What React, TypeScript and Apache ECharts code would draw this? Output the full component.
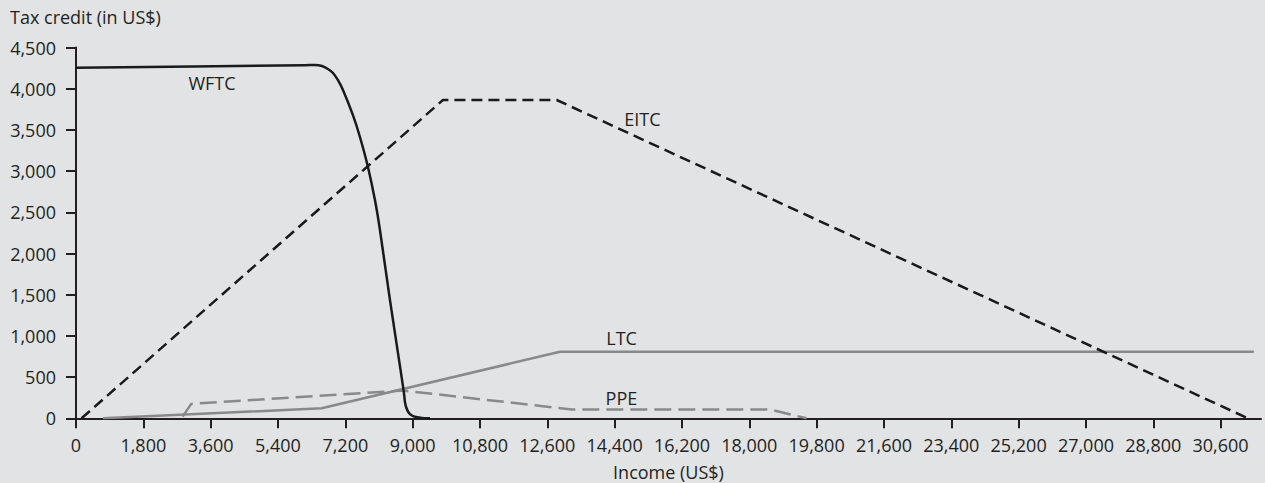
import React, { useEffect, useRef } from "react";
import * as echarts from "echarts";

const xTicks = [0, 1800, 3600, 5400, 7200, 9000, 10800, 12600, 14400, 16200, 18000, 19800, 21600, 23400, 25200, 27000, 28800, 30600];
const yTicks = [0, 500, 1000, 1500, 2000, 2500, 3000, 3500, 4000, 4500];

const wftc: [number, number][] = [
  [0, 4256], [6121, 4287], [6388, 4289], [6576, 4277], [6736, 4240], [6870, 4192],
  [7003, 4105], [7137, 3986], [7404, 3680], [7591, 3415], [7805, 3051], [7992, 2650],
  [8126, 2286], [8393, 1437], [8660, 636], [8767, 309], [8794, 198], [8834, 125],
  [8901, 64], [8981, 34], [9088, 16], [9249, 4], [9462, 0],
];
const eitc: [number, number][] = [[150, 0], [9810, 3864], [12850, 3864], [31330, 0]];
const ltc: [number, number][] = [[722, 0], [6568, 121], [12937, 808], [31490, 808]];
const ppe: [number, number][] = [[2850, 20], [3080, 175], [8740, 337], [13250, 108], [18550, 108], [19530, 0]];

const labels: { name: string; coord: [number, number] }[] = [
  { name: "WFTC", coord: [3635, 4072] },
  { name: "EITC", coord: [15143, 3634] },
  { name: "LTC", coord: [14587, 978] },
  { name: "PPE", coord: [14581, 250] },
];

const FONT = "'Open Sans', 'Noto Sans', sans-serif";
const TXT = "#231f20";
const FS = 18;

export default function App() {
  const ref = useRef<HTMLDivElement>(null);
  useEffect(() => {
    document.body.style.margin = "0";
    const chart = echarts.init(ref.current!, null, { renderer: "svg" });
    const lbl = (name: string) => {
      const l = labels.find((d) => d.name === name)!;
      return {
        symbol: "circle",
        symbolSize: 0,
        silent: true,
        label: { show: true, position: "inside", formatter: l.name, color: TXT, fontSize: FS, fontFamily: FONT },
        data: [{ coord: l.coord }],
      };
    };
    chart.setOption({
      animation: false,
      backgroundColor: "#e2e3e5",
      textStyle: { fontFamily: FONT },
      grid: { left: 76, right: 4, top: 47.6, bottom: 64.7, containLabel: false, outerBoundsMode: "none" },
      graphic: [
        { type: "text", x: 10, y: 17, style: { text: "Tax credit (in US$)", fontSize: FS, fontFamily: FONT, fill: TXT, verticalAlign: "middle" } },
      ],
      xAxis: {
        type: "value",
        min: 0,
        max: 31680,
        interval: 1800,
        splitLine: { show: false },
        name: "Income (US$)",
        nameLocation: "middle",
        nameGap: 45,
        nameTextStyle: { fontSize: FS, color: TXT, fontFamily: FONT },
        axisLine: { show: true, onZero: false, lineStyle: { color: TXT, width: 2 } },
        axisTick: { show: true, length: 10, lineStyle: { color: TXT, width: 2 }, customValues: xTicks },
        axisLabel: {
          color: TXT, fontSize: FS, fontFamily: FONT, margin: 18, customValues: xTicks,
          formatter: (v: number) => v.toLocaleString("en-US"),
        },
      },
      yAxis: {
        type: "value",
        min: 0,
        max: 4500,
        interval: 500,
        splitLine: { show: false },
        axisLine: { show: true, onZero: false, lineStyle: { color: TXT, width: 2 } },
        axisTick: { show: true, length: 10, lineStyle: { color: TXT, width: 2 }, customValues: yTicks },
        axisLabel: {
          color: TXT, fontSize: FS, fontFamily: FONT, margin: 20, customValues: yTicks,
          formatter: (v: number) => v.toLocaleString("en-US"),
        },
      },
      series: [
        {
          name: "WFTC", type: "line", data: wftc, showSymbol: false, symbol: "none", smooth: 0.15,
          lineStyle: { color: "#1a1a1a", width: 2.5, join: "round" }, markPoint: lbl("WFTC"), z: 5,
        },
        {
          name: "EITC", type: "line", data: eitc, showSymbol: false, symbol: "none",
          lineStyle: { color: "#1a1a1a", width: 2.5, type: [11, 6] }, markPoint: lbl("EITC"), z: 4,
        },
        {
          name: "LTC", type: "line", data: ltc, showSymbol: false, symbol: "none",
          lineStyle: { color: "#898989", width: 2.5 }, markPoint: lbl("LTC"), z: 3,
        },
        {
          name: "PPE", type: "line", data: ppe, showSymbol: false, symbol: "none",
          lineStyle: { color: "#898989", width: 2.5, type: [17, 7] }, markPoint: lbl("PPE"), z: 3,
        },
      ],
    });
    return () => chart.dispose();
  }, []);
  return <div ref={ref} style={{ width: 1265, height: 483 }} />;
}
